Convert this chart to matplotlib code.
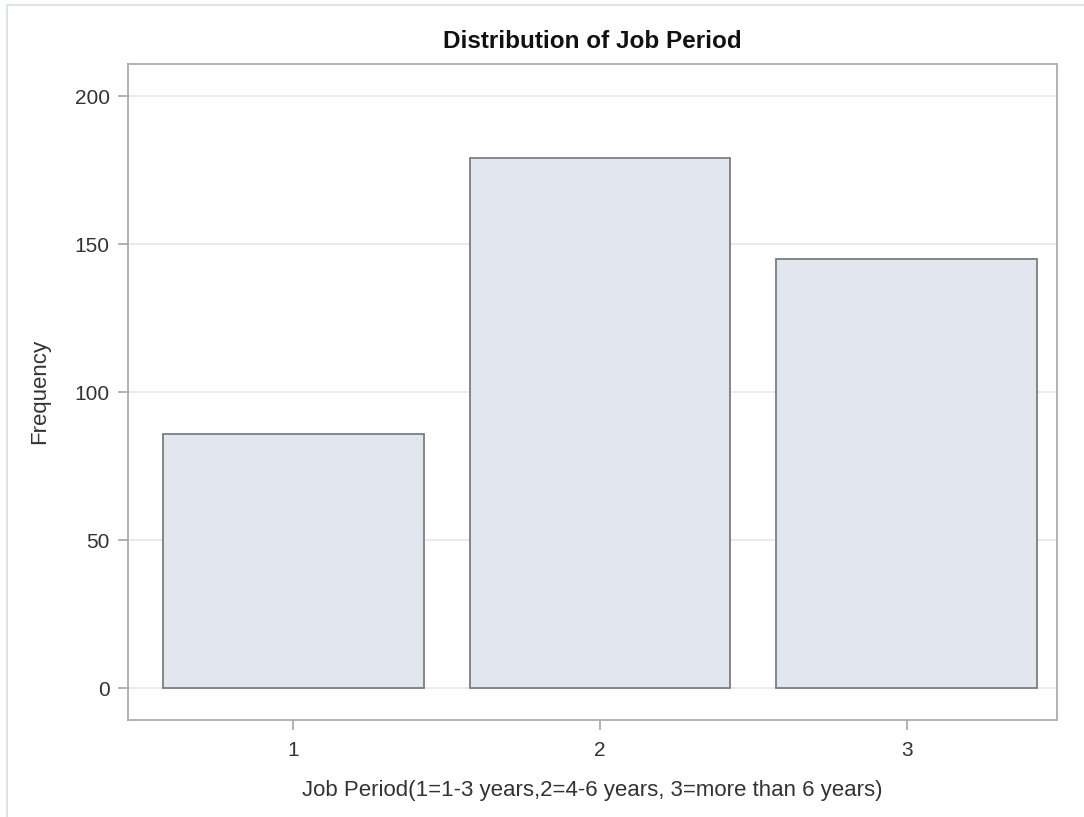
import matplotlib.pyplot as plt
from matplotlib.lines import Line2D

plt.rcParams['font.family'] = ['Liberation Sans', 'DejaVu Sans']

categories = ['1', '2', '3']
frequency = [86, 179, 145]
y_ticks = [0, 50, 100, 150, 200]

fig = plt.figure(figsize=(10.84, 8.17), dpi=100)
# light frame of the screenshot (top and left only)
fig.lines.append(Line2D([0.006, 1.0], [0.994, 0.994], transform=fig.transFigure,
                        color='#dde3ea', linewidth=1.5))
fig.lines.append(Line2D([0.006, 0.006], [0.0, 0.994], transform=fig.transFigure,
                        color='#dde3ea', linewidth=1.5))
ax = fig.add_axes([0.118, 0.119, 0.857, 0.803])

x = range(1, len(categories) + 1)
ax.bar(x, frequency, width=0.85, color='#e1e6ef', edgecolor='#7a7d85', linewidth=1.3, zorder=3)

ax.set_xlim(0.46, 3.49)
ax.set_ylim(-10.7, 211)
ax.set_xticks(list(x))
ax.set_xticklabels(categories)
ax.set_yticks(y_ticks)
ax.grid(axis='y', color='#e6e6e6', linewidth=1.2, zorder=0)

for s in ax.spines.values():
    s.set_color('#a6a6a6')
    s.set_linewidth(1.2)
ax.tick_params(colors='#a6a6a6', labelcolor='#333333', labelsize=15, length=7, width=1.2)
ax.tick_params(axis='x', pad=8)
ax.tick_params(axis='y', pad=6)

ax.set_title('Distribution of Job Period', fontsize=17.5, fontweight='bold', color='#111111', pad=11)
ax.set_xlabel('Job Period(1=1-3 years,2=4-6 years, 3=more than 6 years)', fontsize=16,
              color='#333333', labelpad=15)
ax.set_ylabel('Frequency', fontsize=16, color='#333333', labelpad=18)

fig.savefig('out.png', dpi=100)
